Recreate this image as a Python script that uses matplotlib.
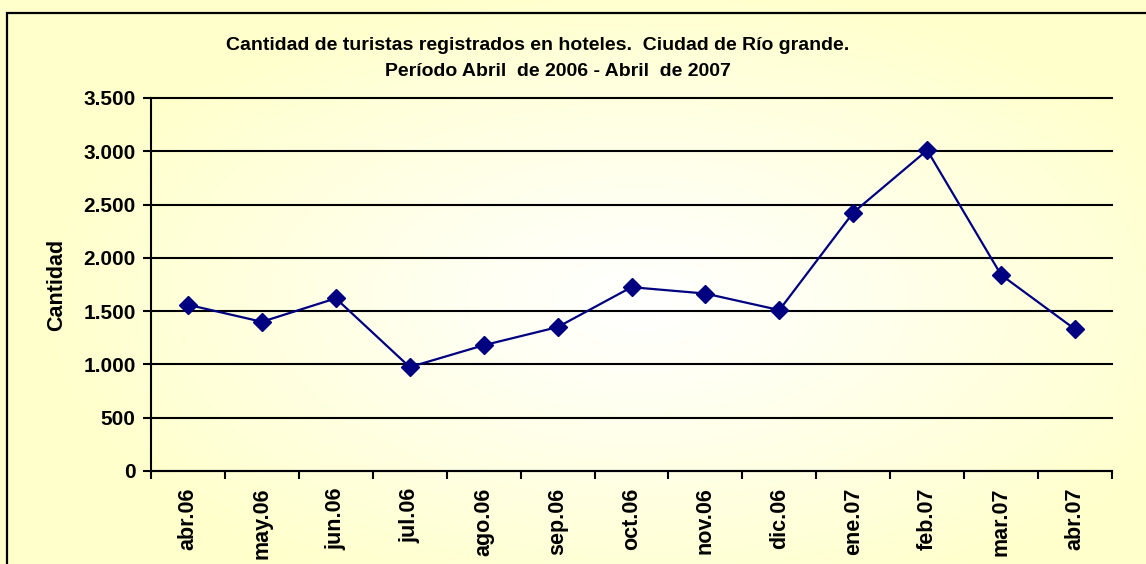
import numpy as np
import matplotlib
matplotlib.use("Agg")
import matplotlib.pyplot as plt
from matplotlib.patches import Rectangle

plt.rcParams['font.family'] = ['Liberation Sans', 'DejaVu Sans']

# Datos
meses = ['abr.06', 'may.06', 'jun.06', 'jul.06', 'ago.06', 'sep.06', 'oct.06',
         'nov.06', 'dic.06', 'ene.07', 'feb.07', 'mar.07', 'abr.07']
turistas = [1560, 1400, 1620, 975, 1180, 1350, 1725, 1665, 1510, 2425, 3010, 1840, 1330]
y_ticks = [0, 500, 1000, 1500, 2000, 2500, 3000, 3500]
y_labels = ['0', '500', '1.000', '1.500', '2.000', '2.500', '3.000', '3.500']

W, H = 1146, 564
fig = plt.figure(figsize=(W / 100, H / 100), dpi=100)

# Fondo con degradado radial (blanco al centro, amarillo pálido en bordes)
bg = fig.add_axes([0, 0, 1, 1])
yy, xx = np.mgrid[0:H, 0:W]
r = np.sqrt(((xx - 640) / 600.0) ** 2 + ((yy - 300) / 320.0) ** 2)
t = np.clip(r, 0, 1) ** 1.1
edge = np.array([1.0, 1.0, 0.8])
img = (1 - t)[..., None] * np.array([1.0, 1.0, 1.0]) + t[..., None] * edge
bg.imshow(img, extent=[0, 1, 0, 1], aspect='auto', origin='upper')
bg.axis('off')

# Borde del gráfico
fig.patches.append(Rectangle((7 / W, -0.1), 1.2, 1 - 13 / H + 0.1, transform=fig.transFigure,
                             fill=False, edgecolor='black', linewidth=1.6))

ax = fig.add_axes([151 / W, 1 - 471 / H, (1112 - 151) / W, (471 - 98) / H])
ax.patch.set_alpha(0)

x = np.arange(len(meses))
ax.plot(x, turistas, color='#000080', linewidth=1.6, marker='D', markersize=9.5,
        markerfacecolor='#000080', markeredgecolor='#000080', zorder=3)

ax.set_xlim(-0.5, len(meses) - 0.5)
ax.set_ylim(0, 3500)
ax.set_yticks(y_ticks)
ax.set_yticklabels(y_labels, fontsize=15, fontweight='bold')
ax.set_xticks(x)
ax.set_xticklabels(meses, rotation=90, fontsize=15.5, fontweight='bold')
ax.tick_params(axis='x', which='major', length=0, pad=12)
ax.set_xticks(np.arange(-0.5, len(meses)), minor=True)
ax.tick_params(axis='x', which='minor', length=6, width=1.5, direction='out')
ax.tick_params(axis='y', length=6, width=1.5, direction='out', pad=5)

ax.grid(axis='y', color='black', linewidth=1.5, clip_on=False)
for gl in ax.get_ygridlines():
    gl.set_clip_on(False)
ax.set_axisbelow(True)
for s in ['top', 'right']:
    ax.spines[s].set_visible(False)
for s in ['left', 'bottom']:
    ax.spines[s].set_linewidth(1.5)

ax.set_ylabel('Cantidad', fontsize=15.5, fontweight='bold', labelpad=12)

fig.text(538 / W, 1 - 45 / H, 'Cantidad de turistas registrados en hoteles.  Ciudad de Río grande.',
         ha='center', va='center', fontsize=14, fontweight='bold')
fig.text(558 / W, 1 - 72 / H, 'Período Abril  de 2006 - Abril  de 2007',
         ha='center', va='center', fontsize=14, fontweight='bold')

fig.savefig('out.png', dpi=100)
